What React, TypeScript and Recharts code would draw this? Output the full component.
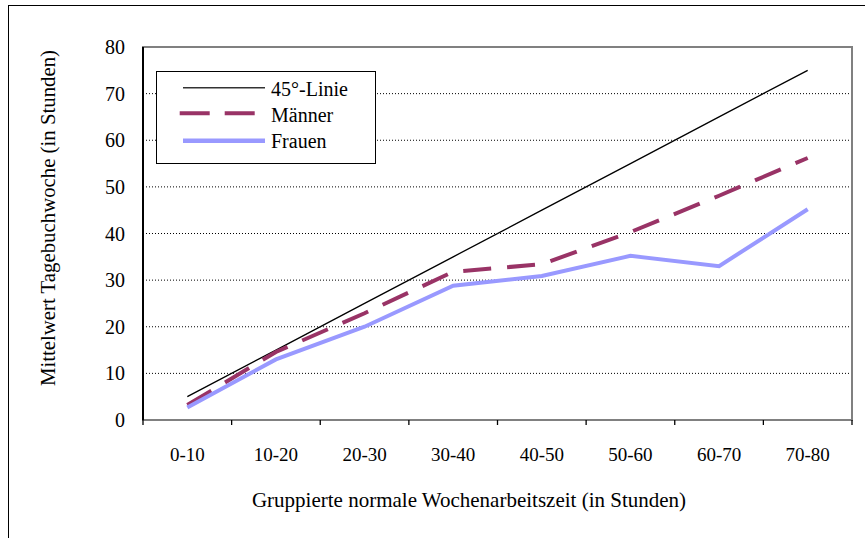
import React from 'react';
import { LineChart, Line, XAxis, YAxis, CartesianGrid, ReferenceArea, Legend } from 'recharts';

const categories = ['0-10', '10-20', '20-30', '30-40', '40-50', '50-60', '60-70', '70-80'];
const linie45 = [5, 15, 25, 35, 45, 55, 65, 75];
const maenner = [3.2, 14.6, 22.9, 31.8, 33.4, 40.3, 48.1, 56.2];
const frauen = [2.7, 13.0, 20.0, 28.8, 30.9, 35.2, 33.0, 45.2];
const yTicks = [0, 10, 20, 30, 40, 50, 60, 70, 80];

const nameLinie = '45°-Linie';
const nameMaenner = 'Männer';
const nameFrauen = 'Frauen';
const xTitle = 'Gruppierte normale Wochenarbeitszeit (in Stunden)';
const yTitle = 'Mittelwert Tagebuchwoche (in Stunden)';

const data = categories.map((c, i) => ({
  cat: c,
  linie: linie45[i],
  maenner: maenner[i],
  frauen: frauen[i],
}));

const FONT = "'Liberation Serif', 'Times New Roman', serif";
const fontStyle = { fontFamily: FONT };
const C_L = '#000000';
const C_M = '#993366';
const C_F = '#9999FF';

function XTick(props: any) {
  const { x, y, payload, index } = props;
  const half = payload && typeof payload.offset === 'number' && payload.offset > 0 ? payload.offset : 44.3;
  const last = index === categories.length - 1;
  return (
    <g>
      <line x1={x - half} x2={x - half} y1={y} y2={y + 5} stroke="#000" strokeWidth={1.3} />
      {last && <line x1={x + half} x2={x + half} y1={y} y2={y + 5} stroke="#000" strokeWidth={1.3} />}
      <text x={x} y={y + 41} textAnchor="middle" fontSize={19} style={fontStyle} fill="#000">
        {payload.value}
      </text>
    </g>
  );
}

const LegendBox = () => (
  <div
    style={{
      width: 220,
      height: 93,
      border: '1.3px solid #000',
      background: '#fff',
      boxSizing: 'border-box',
    }}
  >
    <svg width={218} height={91} style={{ display: 'block' }}>
      <line x1={26} x2={108} y1={15.7} y2={15.7} stroke="#333" strokeWidth={1.4} />
      <text x={114} y={24} fontSize={20} style={fontStyle} fill="#000">{nameLinie}</text>
      <line x1={22.7} x2={97.7} y1={41.3} y2={41.3} stroke={C_M} strokeWidth={4} strokeDasharray="30 15" />
      <text x={114} y={50} fontSize={20} style={fontStyle} fill="#000">{nameMaenner}</text>
      <line x1={26} x2={108} y1={68.7} y2={68.7} stroke={C_F} strokeWidth={4.5} />
      <text x={114} y={76} fontSize={20} style={fontStyle} fill="#000">{nameFrauen}</text>
    </svg>
  </div>
);

export default function App() {
  return (
    <div
      style={{
        position: 'absolute',
        left: 0,
        top: 0,
        width: 865,
        height: 538,
        overflow: 'hidden',
        background: '#fff',
        fontFamily: FONT,
      }}
    >
      <div
        style={{
          position: 'absolute',
          left: 8,
          top: 5,
          width: 1000,
          height: 1000,
          border: '1.5px solid #000',
        }}
      />
      <div style={{ position: 'absolute', left: 0, top: 0 }}>
        <LineChart
          width={865}
          height={538}
          data={data}
          margin={{ top: 47, right: 13, bottom: 88, left: 83 }}
          style={{ fontFamily: FONT }}
        >
          <CartesianGrid vertical={false} stroke="#000" strokeDasharray="1 2" strokeWidth={1} />
          <ReferenceArea
            x1={categories[0]}
            x2={categories[categories.length - 1]}
            y1={0}
            y2={80}
            fill="none"
            fillOpacity={0}
            stroke="#808080"
            strokeWidth={2}
            ifOverflow="visible"
          />
          <XAxis
            dataKey="cat"
            scale="band"
            height={30}
            interval={0}
            tickSize={0}
            tickMargin={0}
            tickLine={false}
            axisLine={{ stroke: '#808080', strokeWidth: 2 }}
            tick={<XTick />}
            label={{
              content: () => (
                <text x={469} y={507} textAnchor="middle" fontSize={21} style={fontStyle} fill="#000">
                  {xTitle}
                </text>
              ),
            }}
          />
          <YAxis
            width={60}
            domain={[0, 80]}
            ticks={yTicks}
            interval={0}
            tickSize={0}
            tickMargin={18}
            tickLine={false}
            axisLine={{ stroke: '#000', strokeWidth: 2 }}
            tick={{ fontSize: 20, fill: '#000', style: fontStyle }}
            label={{
              content: () => (
                <text
                  x={55}
                  y={218}
                  transform="rotate(-90 55 218)"
                  textAnchor="middle"
                  fontSize={20.8}
                  style={fontStyle}
                  fill="#000"
                >
                  {yTitle}
                </text>
              ),
            }}
          />
          <Legend
            layout="horizontal"
            verticalAlign="middle"
            align="center"
            content={() => <LegendBox />}
            wrapperStyle={{ position: 'absolute', left: 156, top: 70.7, width: 220, height: 93 }}
          />
          <Line
            type="linear"
            dataKey="linie"
            name={nameLinie}
            stroke={C_L}
            strokeWidth={1.3}
            dot={false}
            activeDot={false}
            isAnimationActive={false}
          />
          <Line
            type="linear"
            dataKey="maenner"
            name={nameMaenner}
            stroke={C_M}
            strokeWidth={4}
            strokeDasharray="28 16"
            dot={false}
            activeDot={false}
            isAnimationActive={false}
          />
          <Line
            type="linear"
            dataKey="frauen"
            name={nameFrauen}
            stroke={C_F}
            strokeWidth={4}
            dot={false}
            activeDot={false}
            isAnimationActive={false}
          />
        </LineChart>
      </div>
    </div>
  );
}
